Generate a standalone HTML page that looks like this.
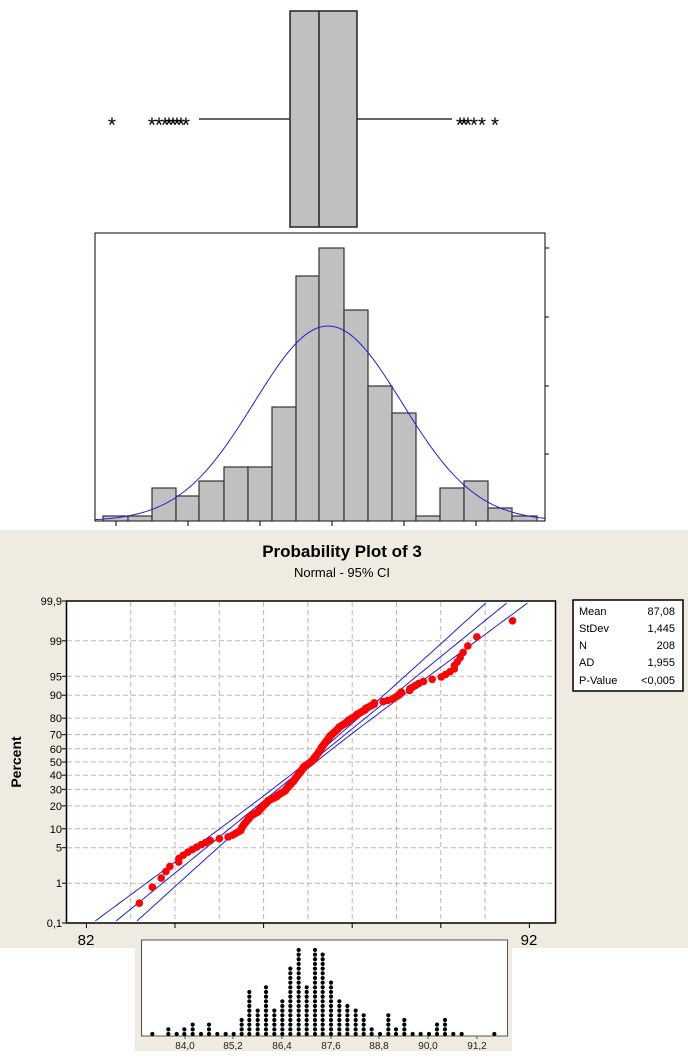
<!DOCTYPE html>
<html><head><meta charset="utf-8"><style>
body{margin:0;width:688px;height:1057px;overflow:hidden;background:#fff;font-family:"Liberation Sans",sans-serif}
svg{display:block}
</style></head><body>
<svg id="s" width="688" height="1057" xmlns="http://www.w3.org/2000/svg" font-family="Liberation Sans, sans-serif">
<rect x="0" y="0" width="688" height="1057" fill="#fff"/>
<!-- boxplot -->
<line x1="199" y1="119" x2="290" y2="119" stroke="#333" stroke-width="1.5"/>
<line x1="357" y1="119" x2="452" y2="119" stroke="#333" stroke-width="1.5"/>
<rect x="290" y="11" width="67" height="216" fill="#c0c0c0" stroke="#222" stroke-width="1.5"/>
<line x1="319" y1="11" x2="319" y2="227" stroke="#222" stroke-width="1.5"/>
<g font-size="21" fill="#000" text-anchor="middle">
<text x="112" y="132">*</text><text x="152" y="132">*</text><text x="159" y="132">*</text><text x="165" y="132">*</text><text x="169" y="132">*</text><text x="173" y="132">*</text><text x="177" y="132">*</text><text x="181" y="132">*</text><text x="186" y="132">*</text>
<text x="460" y="132">*</text><text x="464" y="132">*</text><text x="468" y="132">*</text><text x="474" y="132">*</text><text x="482" y="132">*</text><text x="495" y="132">*</text>
</g>
<!-- histogram frame -->
<rect x="95" y="233" width="450" height="288" fill="#fff" stroke="#000" stroke-width="1"/>
<g id="bars"></g>
<path id="hcurve" fill="none" stroke="#2020e0" stroke-width="1"/>
<g stroke="#000" stroke-width="1">
<line x1="116" y1="521" x2="116" y2="526"/><line x1="188" y1="521" x2="188" y2="526"/><line x1="260" y1="521" x2="260" y2="526"/><line x1="332" y1="521" x2="332" y2="526"/><line x1="404" y1="521" x2="404" y2="526"/><line x1="476" y1="521" x2="476" y2="526"/>
<line x1="545" y1="248" x2="549" y2="248"/><line x1="545" y1="317" x2="549" y2="317"/><line x1="545" y1="386" x2="549" y2="386"/><line x1="545" y1="454" x2="549" y2="454"/>
</g>
<!-- beige panel -->
<rect x="0" y="530" width="688" height="418" fill="#f0ebe1"/>
<text x="342" y="557" font-size="17" font-weight="bold" text-anchor="middle">Probability Plot of 3</text>
<text x="342" y="577" font-size="13" text-anchor="middle">Normal - 95% CI</text>
<rect x="66.5" y="601" width="489" height="322" fill="#fff"/>
<g id="grid" stroke="#b8b8b8" stroke-width="1" stroke-dasharray="5,3"></g>
<g id="ylab" font-size="11" text-anchor="end"></g>
<path id="ci1" fill="none" stroke="#2020e0" stroke-width="1"/>
<path id="ci2" fill="none" stroke="#2020e0" stroke-width="1"/>
<path id="fit" fill="none" stroke="#2020e0" stroke-width="1"/>
<g id="pts" fill="#f00"></g>
<rect x="66.5" y="601" width="489" height="322" fill="none" stroke="#000" stroke-width="1.5"/>
<text transform="translate(21,762) rotate(-90)" font-size="14" font-weight="bold" text-anchor="middle">Percent</text>
<g font-size="15" text-anchor="middle"><text x="86" y="945">82</text><text x="176" y="945">84</text><text x="265" y="945">86</text><text x="353" y="945">88</text><text x="442" y="945">90</text><text x="529" y="945">92</text></g>
<rect x="573" y="600" width="110" height="91" fill="#fff" stroke="#000" stroke-width="1.5"/>
<g font-size="11">
<text x="579" y="615">Mean</text><text x="675" y="615" text-anchor="end">87,08</text>
<text x="579" y="632">StDev</text><text x="675" y="632" text-anchor="end">1,445</text>
<text x="579" y="649">N</text><text x="675" y="649" text-anchor="end">208</text>
<text x="579" y="666">AD</text><text x="675" y="666" text-anchor="end">1,955</text>
<text x="579" y="684">P-Value</text><text x="675" y="684" text-anchor="end">&lt;0,005</text>
</g>
<!-- dotplot -->
<rect x="0" y="948" width="688" height="109" fill="#fff"/>
<rect x="135" y="935" width="377" height="116" fill="#f0ebe1"/>
<rect x="141.5" y="940" width="366" height="96" fill="#fff" stroke="#555" stroke-width="1"/>
<g id="dots" fill="#000"></g>
<g stroke="#555"><line x1="185" y1="1036" x2="185" y2="1039"/><line x1="233" y1="1036" x2="233" y2="1039"/><line x1="282" y1="1036" x2="282" y2="1039"/><line x1="331" y1="1036" x2="331" y2="1039"/><line x1="379" y1="1036" x2="379" y2="1039"/><line x1="428" y1="1036" x2="428" y2="1039"/><line x1="477" y1="1036" x2="477" y2="1039"/></g>
<g font-size="10" text-anchor="middle" fill="#222">
<text x="185" y="1049">84,0</text><text x="233" y="1049">85,2</text><text x="282" y="1049">86,4</text><text x="331" y="1049">87,6</text><text x="379" y="1049">88,8</text><text x="428" y="1049">90,0</text><text x="477" y="1049">91,2</text>
</g>
</svg>
<script>
var NS="http://www.w3.org/2000/svg";
function el(t,a,p){var e=document.createElementNS(NS,t);for(var k in a)e.setAttribute(k,a[k]);document.getElementById(p).appendChild(e);return e;}
var ed=[103,128,152,176,199,224,248,272,296,319,344,368,392,416,440,464,488,512,537];
var tp=[516,516,488,496,481,467,467,407,276,248,310,386,413,516,488,481,508,516];
for(var i=0;i<tp.length;i++)el("rect",{x:ed[i],y:tp[i],width:ed[i+1]-ed[i],height:521-tp[i],fill:"#c0c0c0",stroke:"#333","stroke-width":1.2},"bars");
var d="";for(var x=95;x<=545;x+=2){var y=521-195*Math.exp(-0.5*Math.pow((x-328)/74,2));d+=(x==95?"M":"L")+x+","+y.toFixed(1);}
document.getElementById("hcurve").setAttribute("d",d);
function Y(z){return 762-52.1*z;}
function X(v){return 86.4+44.3*(v-82);}
function ninv(p){var a=[-39.69683028665376,220.9460984245205,-275.9285104469687,138.3577518672690,-30.66479806614716,2.506628277459239],b=[-54.47609879822406,161.5858368580409,-155.6989798598866,66.80131188771931,-13.28068155288572],c=[-7.784894002430293e-03,-0.3223964580411365,-2.400758277161838,-2.549732539343734,4.374664141464968,2.938163982698783],dd=[7.784695709041462e-03,0.3224671290700398,2.445134137142996,3.754408661907416];var q,r;if(p<0.02425){q=Math.sqrt(-2*Math.log(p));return(((((c[0]*q+c[1])*q+c[2])*q+c[3])*q+c[4])*q+c[5])/((((dd[0]*q+dd[1])*q+dd[2])*q+dd[3])*q+1);}if(p>1-0.02425){q=Math.sqrt(-2*Math.log(1-p));return-(((((c[0]*q+c[1])*q+c[2])*q+c[3])*q+c[4])*q+c[5])/((((dd[0]*q+dd[1])*q+dd[2])*q+dd[3])*q+1);}q=p-0.5;r=q*q;return(((((a[0]*r+a[1])*r+a[2])*r+a[3])*r+a[4])*r+a[5])*q/(((((b[0]*r+b[1])*r+b[2])*r+b[3])*r+b[4])*r+1);}
var pc=[[99.9,"99,9"],[99,"99"],[95,"95"],[90,"90"],[80,"80"],[70,"70"],[60,"60"],[50,"50"],[40,"40"],[30,"30"],[20,"20"],[10,"10"],[5,"5"],[1,"1"],[0.1,"0,1"]];
pc.forEach(function(p){var y=Y(ninv(p[0]/100));if(p[0]!=99.9&&p[0]!=0.1)el("line",{x1:67,y1:y,x2:555,y2:y},"grid");var t=el("text",{x:62,y:y+4},"ylab");t.textContent=p[1];el("line",{x1:62,y1:y,x2:66,y2:y,stroke:"#000"},"grid").setAttribute("stroke-dasharray","none");});
for(var v=83;v<=91;v++)el("line",{x1:X(v),y1:602,x2:X(v),y2:922},"grid");
[82,84,86,88,90,92].forEach(function(v){var l=el("line",{x1:X(v),y1:923,x2:X(v),y2:928,stroke:"#000"},"grid");l.setAttribute("stroke-dasharray","none");});
function clipPath(f){var s="",first=true;for(var z=-3.3;z<=3.3;z+=0.05){var y=Y(z);var x=f(z);if(y<601||y>923)continue;s+=(first?"M":"L")+x.toFixed(1)+","+y.toFixed(1);first=false;}return s;}
var m=311.4,k=64;
document.getElementById("fit").setAttribute("d",clipPath(function(z){return m+k*z;}));
function h(z){return k*Math.sqrt(0.0048+0.0109*z*z);}
document.getElementById("ci1").setAttribute("d",clipPath(function(z){return m+k*z-h(z);}));
document.getElementById("ci2").setAttribute("d",clipPath(function(z){return m+k*z+h(z);}));
var cols=[[67,1],[115,2],[140,1],[163,2],[188,3],[213,1],[237,3],[262,1],[287,1],[311,1],[335,4],[358,10],[383,6],[408,11],[433,6],[457,8],[481,15],[506,19],[530,11],[555,19],[578,18],[603,12],[628,8],[652,7],[677,6],[701,5],[725,2],[750,1],[775,5],[798,2],[823,4],[848,1],[872,1],[897,1],[921,3],[945,4],[970,1],[995,1],[1093,1]];
var vals=[];
cols.forEach(function(c){var ox=130+c[0]/3;for(var j=0;j<c[1];j++){el("circle",{cx:ox,cy:1034-j*4.67,r:2.1},"dots");var val=84+(ox-185)/40.6+(c[1]>1?(j/(c[1]-1)-0.5)*0.2:0);vals.push(val);}});
vals.sort(function(a,b){return a-b;});
var n=vals.length;
vals.forEach(function(v,i){var z=ninv((i+1-0.3)/(n+0.4));el("circle",{cx:X(v),cy:Y(z),r:3.8},"pts");});
</script>
</body></html>
